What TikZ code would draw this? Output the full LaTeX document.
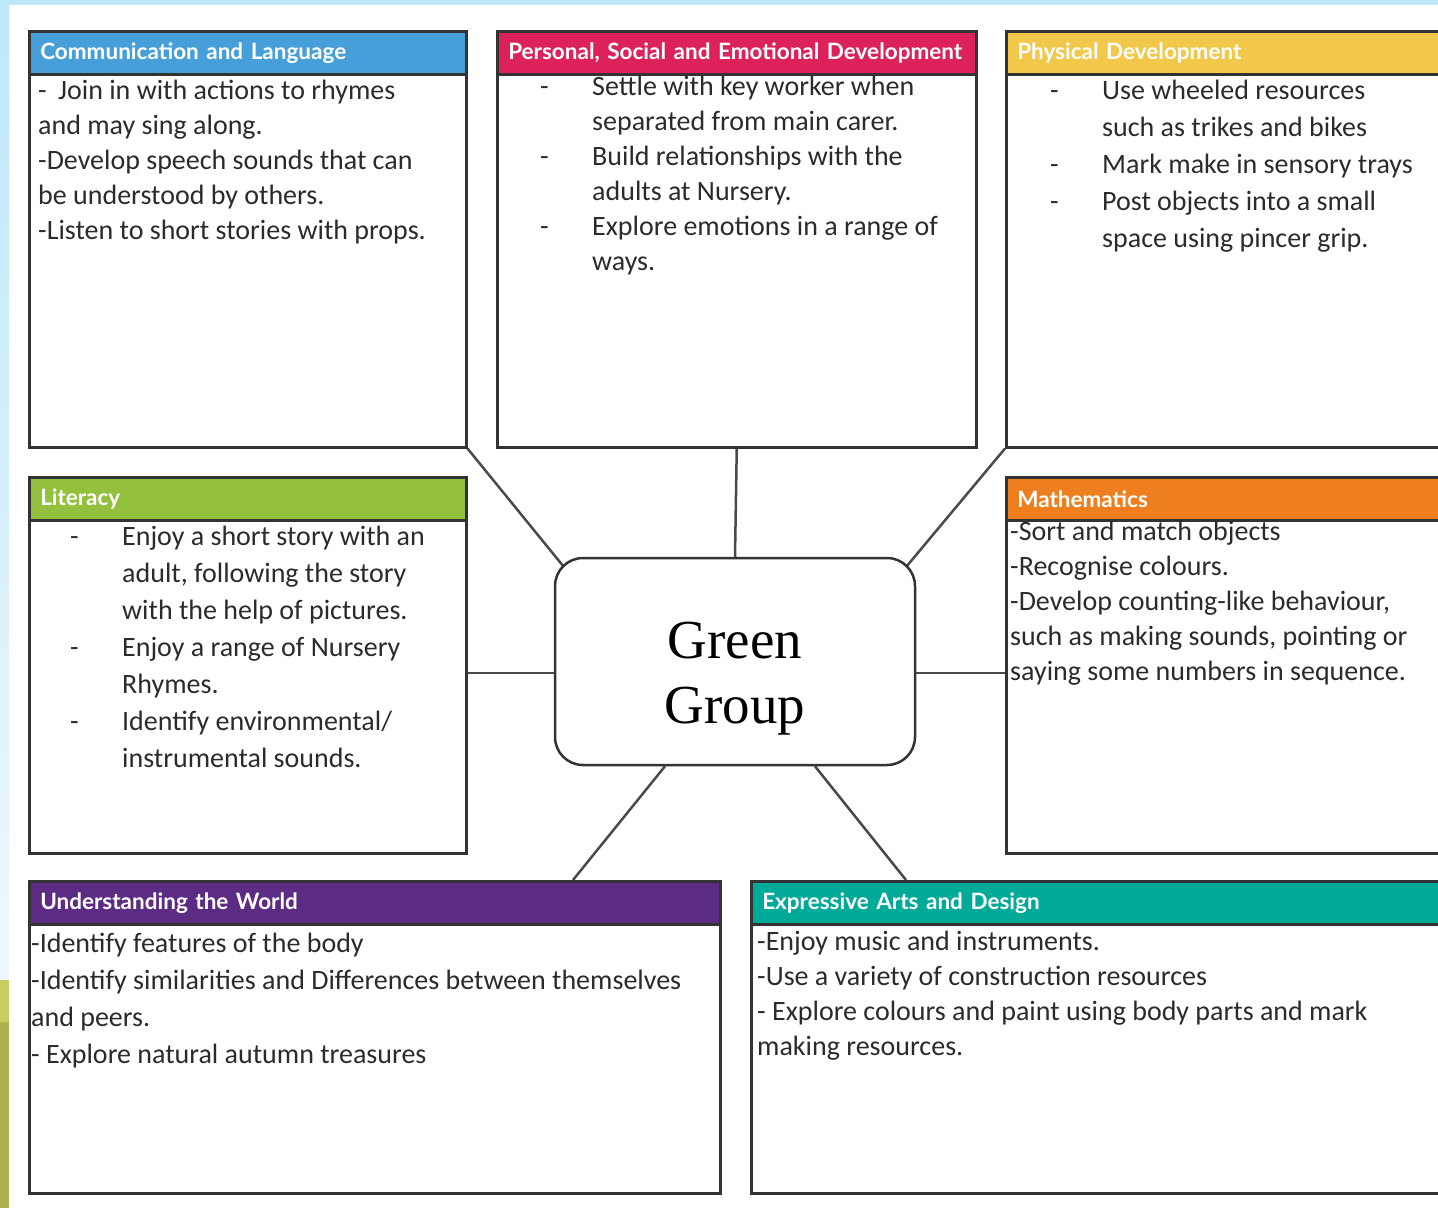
\documentclass[tikz,border=0pt]{standalone}
\usepackage{fontspec}
\setmainfont{Carlito}
\newfontfamily\headfont{Lato}
\newfontfamily\hubfont{Liberation Serif}
\usetikzlibrary{calc,backgrounds}

\definecolor{commblue}{HTML}{479FD9}
\definecolor{psedred}{HTML}{DC215B}
\definecolor{physyellow}{HTML}{F2C84A}
\definecolor{litgreen}{HTML}{93C13D}
\definecolor{mathorange}{HTML}{EF7E1E}
\definecolor{utwpurple}{HTML}{5C2B84}
\definecolor{eadteal}{HTML}{00AA98}
\definecolor{boxline}{HTML}{333333}
\definecolor{linkgray}{HTML}{4A4A4A}
\definecolor{textgray}{HTML}{2B2B2B}
\definecolor{edgeblue}{HTML}{BDE8F9}
\definecolor{edgepale}{HTML}{EEF8FC}
\definecolor{edgelime}{HTML}{C9CD5F}
\definecolor{edgeolive}{HTML}{B1B04F}

\newcommand{\dashcol}{\makebox[52pt][l]{-}}
\newcommand{\gapcol}{\hspace*{52pt}}

\begin{document}
\begin{tikzpicture}[x=1pt,y=-1pt]
    \tikzstyle{box}=[draw=boxline,line width=2.5pt,fill=white,anchor=north west,inner sep=0pt]
    \tikzstyle{hdr}=[draw=boxline,line width=2.5pt,anchor=north west,minimum height=43pt,inner xsep=11pt,inner ysep=0pt,text=white,align=left,font=\headfont\bfseries\fontsize{22.5}{26}\selectfont]
    \tikzstyle{txt}=[anchor=base west,inner sep=0pt,align=left,text=textgray]
    \tikzstyle{hub}=[draw=boxline,line width=2.5pt,fill=white,rounded corners=28pt,minimum width=360pt,minimum height=207pt]
    \tikzstyle{hubtext}=[align=center,inner sep=0pt,font=\hubfont\fontsize{55}{65}\selectfont]
    \tikzstyle{link}=[draw=linkgray,line width=2.5pt]

    \useasboundingbox (0,0) rectangle (1438,1208);
    \clip (0,0) rectangle (1438,1208);

    % page edge
    \fill[edgeblue] (0,0) rectangle (1438,5);
    \shade[top color=edgeblue,bottom color=edgepale] (0,5) rectangle (9,980);
    \fill[edgelime] (0,980) rectangle (9,1022);
    \fill[edgeolive] (0,1022) rectangle (9,1208);

    % subject boxes
    \node [box,minimum width=437pt,minimum height=416pt] (comm) at (28,30) {};
    \node [box,minimum width=479pt,minimum height=416pt] (psed) at (496,30) {};
    \node [box,minimum width=460pt,minimum height=416pt] (phys) at (1005,30) {};
    \node [box,minimum width=437pt,minimum height=376pt] (lit)  at (28,476) {};
    \node [box,minimum width=460pt,minimum height=376pt] (math) at (1005,476) {};
    \node [box,minimum width=691pt,minimum height=312pt] (utw)  at (28,880) {};
    \node [box,minimum width=710pt,minimum height=312pt] (ead)  at (750,880) {};

    % headers
    \node [hdr,fill=commblue,text width=415pt]   (comm-h) at (comm.north west) {Communication and Language};
    \node [hdr,fill=psedred,text width=457pt]    (psed-h) at (psed.north west) {\mbox{Personal, Social and Emotional Development}};
    \node [hdr,fill=physyellow,text width=438pt] (phys-h) at (phys.north west) {Physical Development};
    \node [hdr,fill=litgreen,text width=415pt]   (lit-h)  at (lit.north west)  {Literacy};
    \node [hdr,fill=mathorange,text width=438pt] (math-h) at (math.north west) {Mathematics};
    \node [hdr,fill=utwpurple,text width=669pt]  (utw-h)  at (utw.north west)  {Understanding the World};
    \node [hdr,fill=eadteal,text width=688pt]    (ead-h)  at (ead.north west)  {Expressive Arts and Design};

    % box texts (placed at the baseline of the last line)
    \node [txt,font=\fontsize{28}{35}\selectfont] (comm-t) at (38,239)
        {\makebox[20pt][l]{-}Join in with actions to rhymes\\
         and may sing along.\\
         -Develop speech sounds that can\\
         be understood by others.\\
         -Listen to short stories with props.};
    \node [txt,font=\fontsize{28}{35}\selectfont] (psed-t) at (540,270)
        {\dashcol Settle with key worker when\\
         \gapcol separated from main carer.\\
         \dashcol Build relationships with the\\
         \gapcol adults at Nursery.\\
         \dashcol Explore emotions in a range of\\
         \gapcol ways.};
    \node [txt,font=\fontsize{28}{37}\selectfont] (phys-t) at (1050,247)
        {\dashcol Use wheeled resources\\
         \gapcol such as trikes and bikes\\
         \dashcol Mark make in sensory trays\\
         \dashcol Post objects into a small\\
         \gapcol space using pincer grip.};
    \node [txt,font=\fontsize{28}{37}\selectfont] (lit-t) at (70,767)
        {\dashcol Enjoy a short story with an\\
         \gapcol adult, following the story\\
         \gapcol with the help of pictures.\\
         \dashcol Enjoy a range of Nursery\\
         \gapcol Rhymes.\\
         \dashcol Identify environmental/\\
         \gapcol instrumental sounds.};
    \node [txt,font=\fontsize{28}{35}\selectfont] (math-t) at (1010,680)
        {-Sort and match objects\\
         -Recognise colours.\\
         -Develop counting-like behaviour,\\
         such as making sounds, pointing or\\
         saying some numbers in sequence.};
    \node [txt,font=\fontsize{28}{37}\selectfont] (utw-t) at (31,1063)
        {-Identify features of the body\\
         -Identify similarities and Differences between themselves\\
         and peers.\\
         - Explore natural autumn treasures};
    \node [txt,font=\fontsize{28}{35}\selectfont] (ead-t) at (757,1055)
        {-Enjoy music and instruments.\\
         -Use a variety of construction resources\\
         - Explore colours and paint using body parts and mark\\
         making resources.};

    % centre
    \node [hub] (hub) at (735,661.5) {};
    \node [hubtext] (hub-t) at ([yshift=-17pt]hub.center) {Green\\Group};

    % links to the centre
    \coordinate (midL) at ([yshift=-11.5pt]hub.west);
    \coordinate (midR) at ([yshift=-11.5pt]hub.east);
    \begin{scope}[on background layer]
        \draw [link] (comm.south east) -- ($(hub.north west)+(10,10)$);
        \draw [link] (psed.south) -- (hub.north);
        \draw [link] (phys.south west) -- ($(hub.north east)+(-10,10)$);
        \draw [link] (midL) -- (midL -| lit.east);
        \draw [link] (midR) -- (midR -| math.west);
        \draw [link] ($(hub.south)+(-70,0)$) -- ($(utw.north west)+(545,0)$);
        \draw [link] ($(hub.south)+(80,0)$) -- ($(ead.north west)+(156,0)$);
    \end{scope}
\end{tikzpicture}
\end{document}
